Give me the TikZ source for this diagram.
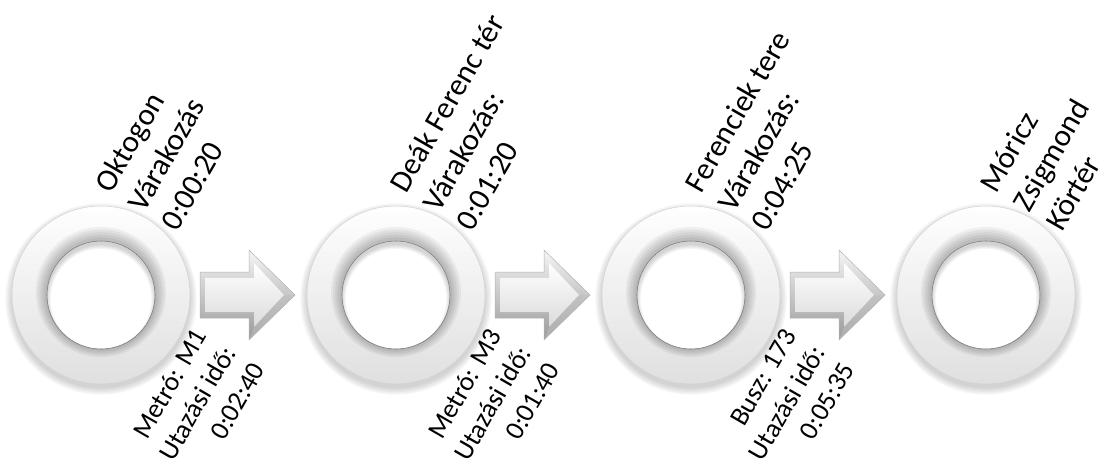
\documentclass[tikz,border=0pt]{standalone}
\usepackage{fontspec}
\setmainfont{Carlito}
\usetikzlibrary{calc}
\pgfdeclareradialshading{ringshade}{\pgfpoint{0bp}{0bp}}{%
 color(0bp)=(white); color(29.8bp)=(white); color(30.3bp)=(black!35); color(31.5bp)=(black!13);
 color(34bp)=(black!4); color(37bp)=(white); color(44bp)=(white); color(47bp)=(black!6);
 color(49bp)=(black!18); color(50bp)=(black!28)}
\tikzset{
 ringnode/.style={circle,minimum size=178pt,inner sep=0pt},
 lab/.style={rotate=60,inner sep=0pt},
 toplab/.style={lab,align=left,anchor=west,font=\fontsize{31}{38}\selectfont},
 botlab/.style={lab,align=right,anchor=east,font=\fontsize{27}{33.5}\selectfont},
}
\newcommand\mkring[1]{%
\begin{scope}[shift={(#1.center)}]
 \foreach \k in {1,...,6}{\fill[black,opacity=0.03,even odd rule] (0,-4) circle ({88+\k*1.3}) (0,-4) circle ({55-\k*0.8});}
 \shade[shading=ringshade,even odd rule] (0,0) circle (89) (0,0) circle (54);
 \shade[top color=white,bottom color=black,opacity=0.12,even odd rule] (0,0) circle (89) (0,0) circle (54);
 \foreach \k in {1,...,5}{\fill[black,opacity=0.05,even odd rule] (0,{1+\k*0.4}) circle ({54+\k*2.2}) (0,0) circle (54);}
 \draw[black!18,line width=0.5] (0,0) circle (89);
 \draw[black!50,line width=0.6] (0,0) circle (54);
\end{scope}}
\newcommand\mkarrow[2]{%
\begin{scope}[shift={(#1.center)}]
 \shade[top color=black!4,bottom color=black!40,draw=black!30,line width=0.5]
  (99,23) -- (148,23) -- (148,45) -- (194,0) -- (148,-45) -- (148,-23) -- (99,-23) -- cycle;
 \shade[top color=white,bottom color=black!14]
  (104,17) -- (153,17) -- (153,32) -- (183,0) -- (153,-32) -- (153,-17) -- (104,-17) -- cycle;
 \fill[black!25,opacity=0.5] (153,-32) -- (183,0) -- (194,0) -- (148,-45) -- cycle;
 \coordinate (#2) at (194,0);
\end{scope}}
\begin{document}
\begin{tikzpicture}[x=1pt,y=1pt]
\useasboundingbox (0,0) rectangle (1106,459);
\node[ringnode] (r1) at (101,164) {};
\node[ringnode] (r2) at (396,164) {};
\node[ringnode] (r3) at (691,164) {};
\node[ringnode] (r4) at (986,164) {};
\mkring{r1}\mkring{r2}\mkring{r3}\mkring{r4}
\mkarrow{r1}{a1}\mkarrow{r2}{a2}\mkarrow{r3}{a3}
\node[toplab] (t1) at ($(r1.center)+(34,87)$) {Oktogon\\Várakozás\\0:00:20};
\node[toplab] (t2) at ($(r2.center)+(34,87)$) {Deák Ferenc tér\\Várakozás:\\0:01:20};
\node[toplab] (t3) at ($(r3.center)+(34,87)$) {Ferenciek tere\\Várakozás:\\0:04:25};
\node[toplab] (t4) at ($(r4.center)+(34,87)$) {Móricz\\Zsigmond\\Körtér};
\node[botlab] (b1) at ($(r1.center)+(128,-53)$) {Metró: M1\\Utazási idő:\\0:02:40};
\node[botlab] (b2) at ($(r2.center)+(128,-53)$) {Metró: M3\\Utazási idő:\\0:01:40};
\node[botlab] (b3) at ($(r3.center)+(128,-53)$) {Busz: 173\\Utazási idő:\\0:05:35};
\end{tikzpicture}
\end{document}
